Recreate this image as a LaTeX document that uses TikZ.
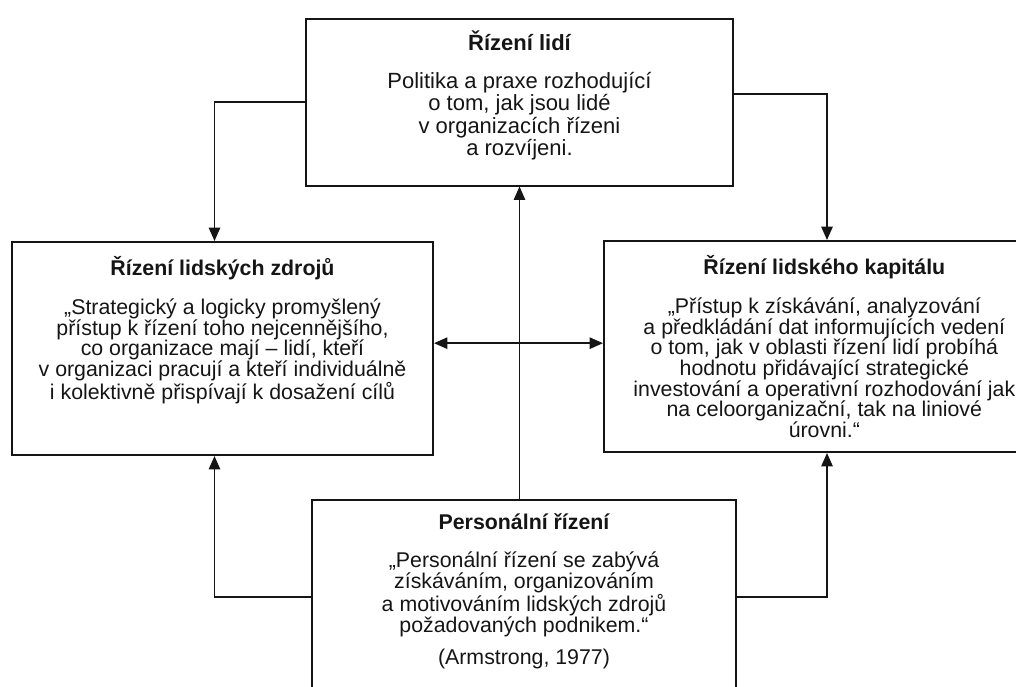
\documentclass[tikz,border=0pt]{standalone}
\usepackage{fontspec}
\setmainfont{Liberation Sans}
\definecolor{KInk}{HTML}{151515}
\usepackage{tikz}
\usetikzlibrary{arrows.meta,positioning}

\tikzset{
  ramec/.style={rectangle,draw=KInk,line width=1.5pt,inner sep=0pt},
  popis/.style={anchor=north,align=center,inner sep=0pt,text=KInk,
                font=\fontsize{16}{15.5}\selectfont},
  sipka/.style={draw=KInk,line width=1.2pt,-{Triangle[length=10pt,width=8.5pt]}},
  dvojsipka/.style={draw=KInk,line width=1.2pt,
                    {Triangle[length=10pt,width=8.5pt]}-{Triangle[length=10pt,width=8.5pt]}},
}

\begin{document}
\begin{tikzpicture}[x=0.75pt,y=-0.75pt]
    \useasboundingbox (0,0) rectangle (1016,686);

    \node[ramec,minimum width=320.25pt,minimum height=125.25pt] (lidi) at (519.5,102) {};
    \node[ramec,minimum width=315.75pt,minimum height=159.75pt] (zdroje) at (222.5,348.5) {};
    \node[ramec,minimum width=334.5pt,minimum height=158.25pt] (kapital) at (827,346.5) {};
    \node[ramec,minimum width=318pt,minimum height=145.5pt] (personal) at (524,597) {};

    \node[popis,font=\fontsize{16.5}{15.5}\selectfont] (lidiT) at ([yshift=-10pt]lidi.north) {%
      {\bfseries Řízení lidí}\\[13pt]
      Politika a praxe rozhodující\\
      o tom, jak jsou lidé\\
      v organizacích řízeni\\
      a rozvíjeni.};
    \node[popis] (zdrojeT) at ([yshift=-11pt]zdroje.north) {%
      {\bfseries Řízení lidských zdrojů}\\[14pt]
      „Strategický a logicky promyšlený\\
      přístup k řízení toho nejcennějšího,\\
      co organizace mají – lidí, kteří\\
      v organizaci pracují a kteří individuálně\\
      i kolektivně přispívají k dosažení cílů};
    \node[popis] (kapitalT) at ([xshift=-2pt,yshift=-11pt]kapital.north) {%
      {\bfseries Řízení lidského kapitálu}\\[14pt]
      „Přístup k získávání, analyzování\\
      a předkládání dat informujících vedení\\
      o tom, jak v oblasti řízení lidí probíhá\\
      hodnotu přidávající strategické\\
      investování a operativní rozhodování jak\\
      na celoorganizační, tak na liniové\\
      úrovni.“};
    \node[popis] (personalT) at ([yshift=-11pt]personal.north) {%
      {\bfseries Personální řízení}\\[13pt]
      „Personální řízení se zabývá\\
      získáváním, organizováním\\
      a motivováním lidských zdrojů\\
      požadovaných podnikem.“\\[9pt]
      (Armstrong, 1977)};

    \draw[sipka] (lidi.west) -| ([xshift=-6pt]zdroje.north);
    \draw[sipka] ([yshift=6pt]lidi.east) -| (kapital.north);
    \draw[sipka] (personal.north -| lidi.south) -- (lidi.south);
    \draw[dvojsipka] ([yshift=4pt]zdroje.east) -- ([yshift=4pt]zdroje.east -| kapital.west);
    \draw[sipka] (personal.west) -| ([xshift=-6pt]zdroje.south);
    \draw[sipka] (personal.east) -| (kapital.south);
\end{tikzpicture}
\end{document}
